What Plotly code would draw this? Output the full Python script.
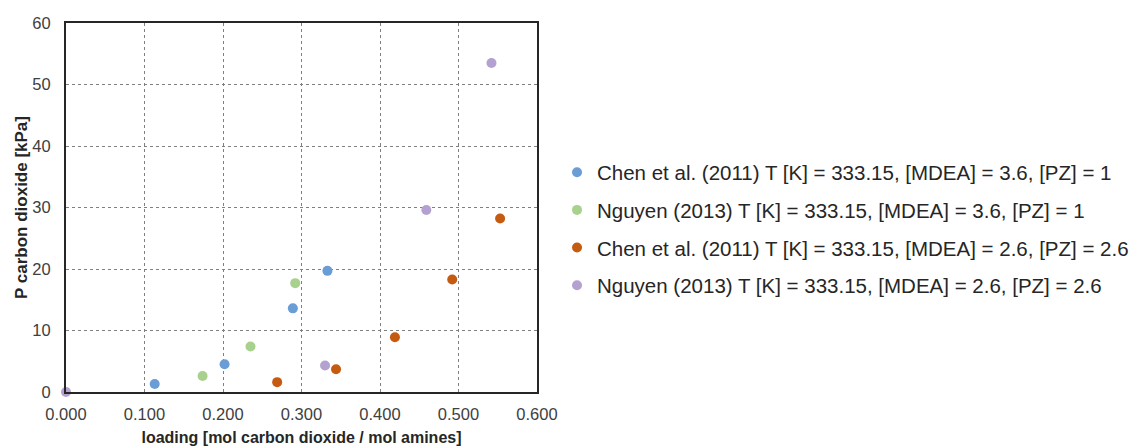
import plotly.graph_objects as go

# Series names
names = [
    "Chen et al. (2011) T [K] = 333.15, [MDEA] = 3.6, [PZ] = 1",
    "Nguyen (2013) T [K] = 333.15, [MDEA] = 3.6, [PZ] = 1",
    "Chen et al. (2011) T [K] = 333.15, [MDEA] = 2.6, [PZ] = 2.6",
    "Nguyen (2013) T [K] = 333.15, [MDEA] = 2.6, [PZ] = 2.6",
]

# CO2 loading [mol CO2 / mol amines]
chen_36_x = [0.113, 0.202, 0.289, 0.333]
nguyen_36_x = [0.174, 0.235, 0.292]
chen_26_x = [0.269, 0.344, 0.419, 0.492, 0.553]
nguyen_26_x = [0.000, 0.330, 0.459, 0.542]

# CO2 partial pressure [kPa]
chen_36_y = [1.3, 4.5, 13.6, 19.7]
nguyen_36_y = [2.6, 7.4, 17.7]
chen_26_y = [1.6, 3.7, 8.9, 18.3, 28.2]
nguyen_26_y = [0.0, 4.3, 29.6, 53.5]

colors = ["#6a9cd6", "#a9d18e", "#c55a11", "#b3a2d0"]

xs = [chen_36_x, nguyen_36_x, chen_26_x, nguyen_26_x]
ys = [chen_36_y, nguyen_36_y, chen_26_y, nguyen_26_y]

fig = go.Figure()
for i, (name, x, y, c) in enumerate(zip(names, xs, ys, colors)):
    fig.add_trace(go.Scatter(
        x=x, y=y, mode="markers", name=name, legendgroup=str(i),
        marker=dict(size=10, color=c, line=dict(width=0)),
        cliponaxis=False,
    ))

font_family = "Liberation Sans, Arial, sans-serif"

fig.update_layout(
    width=1135, height=446,
    paper_bgcolor="white", plot_bgcolor="white",
    margin=dict(l=66, r=598, t=23, b=54, autoexpand=False),
    font=dict(family=font_family, color="#404040", size=16),
    legend=dict(
        x=1.0425, y=0.442, xanchor="left", yanchor="middle",
        font=dict(size=20.5, color="#262626", family=font_family),
        tracegroupgap=8, itemwidth=30,
    ),
    xaxis=dict(
        range=[0, 0.6], tickvals=[0, 0.1, 0.2, 0.3, 0.4, 0.5, 0.6],
        tickformat=".3f", automargin=False,
        showgrid=True, gridcolor="#7f7f7f", griddash="dot", gridwidth=1,
        showline=True, linecolor="#262626", linewidth=2, mirror=True,
        zeroline=False, ticks="", ticklabelstandoff=6,
        tickfont=dict(size=16.5, color="#404040"),
        title=dict(text="<b>loading [mol carbon dioxide / mol amines]</b>",
                   font=dict(size=16, color="#262626"), standoff=10),
    ),
    yaxis=dict(
        range=[0, 60], tickvals=[0, 10, 20, 30, 40, 50, 60],
        automargin=False,
        showgrid=True, gridcolor="#7f7f7f", griddash="dot", gridwidth=1,
        showline=True, linecolor="#262626", linewidth=2, mirror=True,
        zeroline=False, ticks="", ticklabelstandoff=10,
        tickfont=dict(size=16.5, color="#404040"),
        title=dict(text="<b>P carbon dioxide [kPa]</b>",
                   font=dict(size=17, color="#262626"), standoff=0),
    ),
)

fig.write_html("out.html")
